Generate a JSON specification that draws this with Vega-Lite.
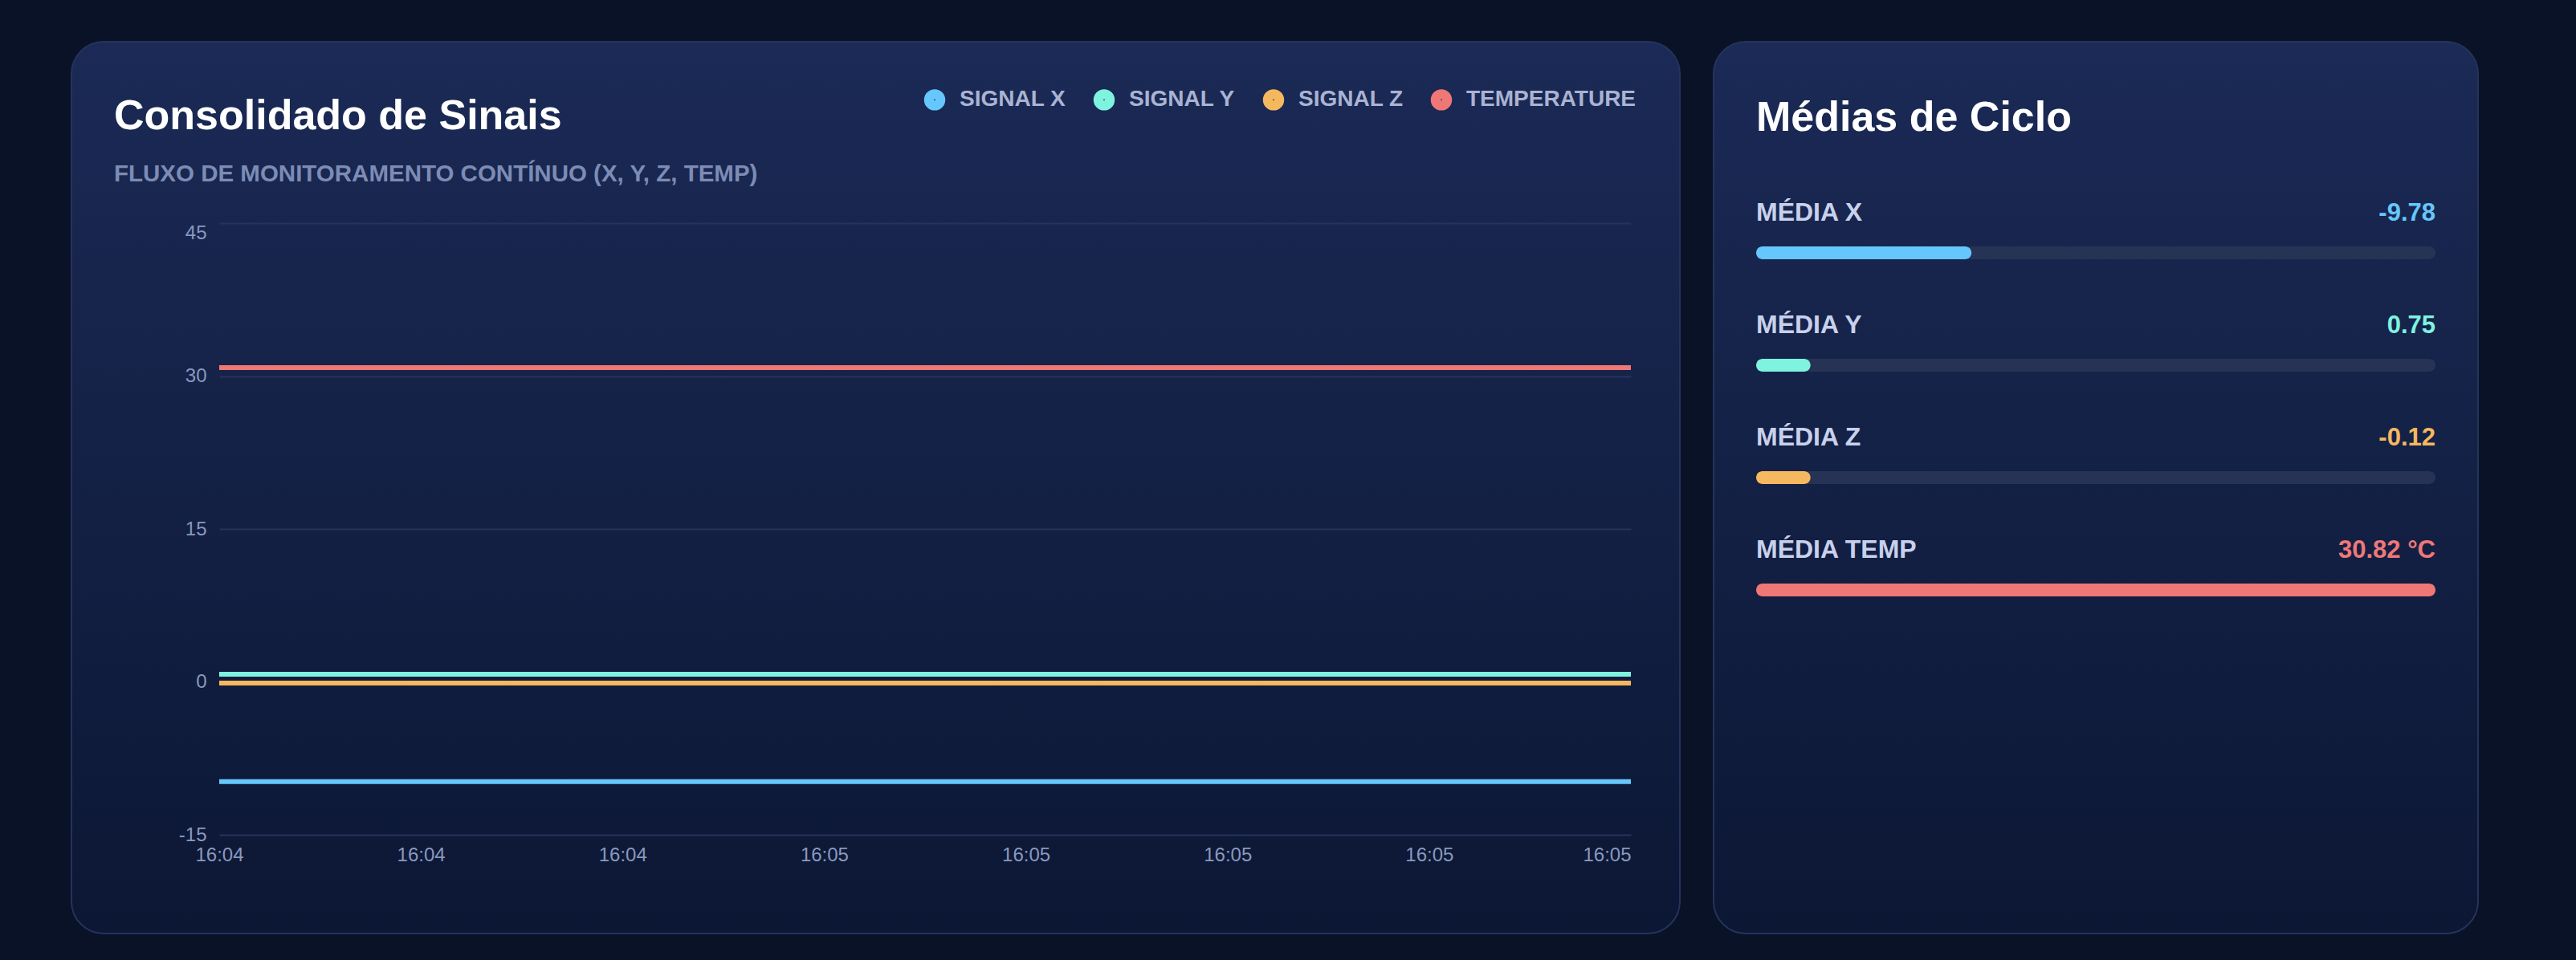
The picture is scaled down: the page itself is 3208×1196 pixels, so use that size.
{
  "$schema": "https://vega.github.io/schema/vega-lite/v6.json",
  "description": "Consolidado de Sinais e Médias de Ciclo",
  "background": "#091227",
  "padding": {"left": 88, "top": 51, "right": 125, "bottom": 34},
  "spacing": 40,
  "resolve": {"scale": {"color": "independent"}, "legend": {"color": "independent"}},
  "config": {
    "font": "Liberation Sans",
    "title": {"offset": 0}
  },
  "hconcat": [
    {
      "width": 2003,
      "height": 1111,
      "view": {
        "fill": {"gradient": "linear", "x1": 0, "y1": 0, "x2": 0, "y2": 1,
          "stops": [{"offset": 0, "color": "#1b2a56"}, {"offset": 1, "color": "#0c1734"}]},
        "stroke": "#25335c",
        "strokeWidth": 2,
        "cornerRadius": 40
      },
      "title": {
        "text": "Consolidado de Sinais",
        "subtitle": "FLUXO DE MONITORAMENTO CONTÍNUO (X, Y, Z, TEMP)",
        "anchor": "start",
        "frame": "group",
        "dx": 53,
        "dy": 184,
        "font": "Liberation Sans",
        "fontSize": 52,
        "fontWeight": "bold",
        "color": "#ffffff",
        "subtitleFont": "Liberation Sans",
        "subtitleFontSize": 29.5,
        "subtitleFontWeight": "bold",
        "subtitleColor": "#7d8cb5",
        "subtitlePadding": 31
      },
      "data": {
        "values": [
          {"time": "16:04:36", "series": "SIGNAL X", "value": -9.78},
          {"time": "16:04:44", "series": "SIGNAL X", "value": -9.78},
          {"time": "16:04:52", "series": "SIGNAL X", "value": -9.78},
          {"time": "16:05:00", "series": "SIGNAL X", "value": -9.78},
          {"time": "16:05:08", "series": "SIGNAL X", "value": -9.78},
          {"time": "16:05:16", "series": "SIGNAL X", "value": -9.78},
          {"time": "16:05:24", "series": "SIGNAL X", "value": -9.78},
          {"time": "16:05:32", "series": "SIGNAL X", "value": -9.78},
          {"time": "16:04:36", "series": "SIGNAL Y", "value": 0.75},
          {"time": "16:04:44", "series": "SIGNAL Y", "value": 0.75},
          {"time": "16:04:52", "series": "SIGNAL Y", "value": 0.75},
          {"time": "16:05:00", "series": "SIGNAL Y", "value": 0.75},
          {"time": "16:05:08", "series": "SIGNAL Y", "value": 0.75},
          {"time": "16:05:16", "series": "SIGNAL Y", "value": 0.75},
          {"time": "16:05:24", "series": "SIGNAL Y", "value": 0.75},
          {"time": "16:05:32", "series": "SIGNAL Y", "value": 0.75},
          {"time": "16:04:36", "series": "SIGNAL Z", "value": -0.12},
          {"time": "16:04:44", "series": "SIGNAL Z", "value": -0.12},
          {"time": "16:04:52", "series": "SIGNAL Z", "value": -0.12},
          {"time": "16:05:00", "series": "SIGNAL Z", "value": -0.12},
          {"time": "16:05:08", "series": "SIGNAL Z", "value": -0.12},
          {"time": "16:05:16", "series": "SIGNAL Z", "value": -0.12},
          {"time": "16:05:24", "series": "SIGNAL Z", "value": -0.12},
          {"time": "16:05:32", "series": "SIGNAL Z", "value": -0.12},
          {"time": "16:04:36", "series": "TEMPERATURE", "value": 30.82},
          {"time": "16:04:44", "series": "TEMPERATURE", "value": 30.82},
          {"time": "16:04:52", "series": "TEMPERATURE", "value": 30.82},
          {"time": "16:05:00", "series": "TEMPERATURE", "value": 30.82},
          {"time": "16:05:08", "series": "TEMPERATURE", "value": 30.82},
          {"time": "16:05:16", "series": "TEMPERATURE", "value": 30.82},
          {"time": "16:05:24", "series": "TEMPERATURE", "value": 30.82},
          {"time": "16:05:32", "series": "TEMPERATURE", "value": 30.82}
        ]
      },
      "mark": {"type": "line", "strokeWidth": 6, "clip": false},
      "encoding": {
        "x": {
          "field": "time",
          "type": "ordinal",
          "title": null,
          "scale": {"type": "point", "padding": 0, "range": [184, 1942]},
          "axis": {
            "offset": -123,
            "domain": false,
            "ticks": false,
            "grid": false,
            "labelAngle": 0,
            "labelPadding": 13,
            "labelFont": "Liberation Sans",
            "labelFontSize": 24,
            "labelColor": "#8a98bf",
            "labelExpr": "slice(datum.label, 0, 5)",
            "labelAlign": {"condition": {"test": "datum.value == '16:05:32'", "value": "right"}, "value": "center"}
          }
        },
        "y": {
          "field": "value",
          "type": "quantitative",
          "title": null,
          "scale": {"domain": [-15, 45], "range": [988, 226], "nice": false, "zero": false},
          "axis": {
            "values": [-15, 0, 15, 30, 45],
            "offset": -184,
            "domain": false,
            "ticks": false,
            "grid": true,
            "gridColor": "#26345a",
            "gridWidth": 2,
            "labelPadding": 16,
            "labelFont": "Liberation Sans",
            "labelFontSize": 24,
            "labelColor": "#8a98bf",
            "labelExpr": "replace(datum.label, '−', '-')",
            "labelBaseline": {"condition": {"test": "datum.value == 45", "value": "top"}, "value": "middle"}
          }
        },
        "color": {
          "field": "series",
          "type": "nominal",
          "scale": {
            "domain": ["SIGNAL X", "SIGNAL Y", "SIGNAL Z", "TEMPERATURE"],
            "range": ["#66c7fc", "#7ef3df", "#f5b85f", "#ef7877"]
          },
          "legend": {
            "title": null,
            "orient": "none",
            "legendX": 1061,
            "legendY": 58,
            "direction": "horizontal",
            "columns": 4,
            "padding": 0,
            "columnPadding": 12,
            "symbolType": "circle",
            "symbolSize": 154,
            "symbolStrokeWidth": 14,
            "labelOffset": 17,
            "labelLimit": 400,
            "labelFont": "Liberation Sans",
            "labelFontSize": 28,
            "labelFontWeight": "bold",
            "labelColor": "#aab3d3"
          }
        }
      }
    },
    {
      "width": 952,
      "height": 1111,
      "view": {
        "fill": {"gradient": "linear", "x1": 0, "y1": 0, "x2": 0, "y2": 1,
          "stops": [{"offset": 0, "color": "#1b2a56"}, {"offset": 1, "color": "#0c1734"}]},
        "stroke": "#25335c",
        "strokeWidth": 2,
        "cornerRadius": 40
      },
      "title": {
        "text": "Médias de Ciclo",
        "anchor": "start",
        "frame": "group",
        "dx": 53,
        "dy": 126,
        "font": "Liberation Sans",
        "fontSize": 52,
        "fontWeight": "bold",
        "color": "#ffffff"
      },
      "data": {
        "values": [
          {"metric": "MÉDIA X", "series": "SIGNAL X", "display": "-9.78", "progress": 0.317},
          {"metric": "MÉDIA Y", "series": "SIGNAL Y", "display": "0.75", "progress": 0.08},
          {"metric": "MÉDIA Z", "series": "SIGNAL Z", "display": "-0.12", "progress": 0.08},
          {"metric": "MÉDIA TEMP", "series": "TEMPERATURE", "display": "30.82 °C", "progress": 1.0}
        ]
      },
      "encoding": {
        "y": {
          "field": "metric",
          "type": "nominal",
          "sort": ["MÉDIA X", "MÉDIA Y", "MÉDIA Z", "MÉDIA TEMP"],
          "scale": {"type": "band", "range": [193, 753], "paddingInner": 0, "paddingOuter": 0},
          "axis": null
        }
      },
      "layer": [
        {
          "mark": {"type": "bar", "height": 16, "cornerRadius": 8, "color": "#263354"},
          "encoding": {
            "x": {"datum": 1, "type": "quantitative", "scale": {"domain": [0, 1], "range": [53, 899]}, "axis": null},
            "x2": {"datum": 0}
          }
        },
        {
          "mark": {"type": "bar", "height": 16, "cornerRadius": 8},
          "encoding": {
            "x": {"field": "progress", "type": "quantitative"},
            "x2": {"datum": 0},
            "color": {
              "field": "series",
              "type": "nominal",
              "scale": {
                "domain": ["SIGNAL X", "SIGNAL Y", "SIGNAL Z", "TEMPERATURE"],
                "range": ["#66c7fc", "#7ef3df", "#f5b85f", "#ef7877"]
              },
              "legend": null
            }
          }
        },
        {
          "mark": {"type": "text", "align": "left", "baseline": "alphabetic", "dy": -40, "font": "Liberation Sans", "fontSize": 32, "fontWeight": "bold", "letterSpacing": 2, "color": "#c8d1ec"},
          "encoding": {
            "x": {"datum": 0, "type": "quantitative"},
            "text": {"field": "metric"}
          }
        },
        {
          "mark": {"type": "text", "align": "right", "baseline": "alphabetic", "dy": -40, "font": "Liberation Sans", "fontSize": 31, "fontWeight": "bold"},
          "encoding": {
            "x": {"datum": 1, "type": "quantitative"},
            "text": {"field": "display"},
            "color": {"field": "series", "type": "nominal", "legend": null}
          }
        }
      ]
    }
  ]
}
